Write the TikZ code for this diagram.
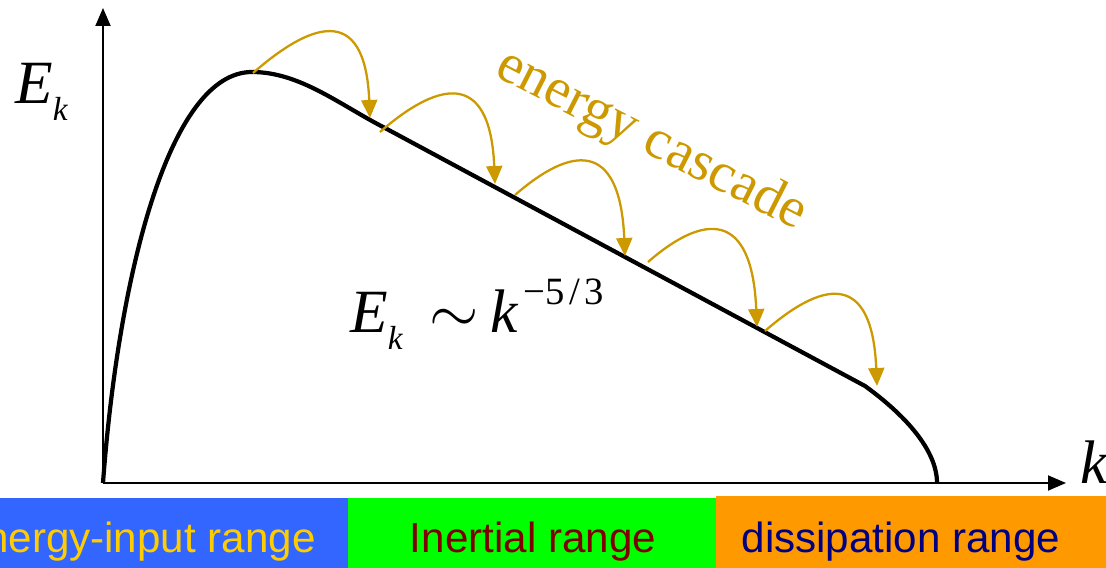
\documentclass[tikz,border=0pt]{standalone}
\usepackage{fontspec}
\setmainfont{Liberation Serif}
\newfontfamily\barfont{Liberation Sans}
\usepackage{graphicx}
\usetikzlibrary{arrows.meta}
\usepackage{xcolor}
\definecolor{gold}{HTML}{CC9900}
\definecolor{inputblue}{HTML}{3366FF}
\definecolor{inertgreen}{HTML}{00FF00}
\definecolor{dissorange}{HTML}{FF9900}
\definecolor{inputyellow}{HTML}{FFCC00}
\definecolor{inertred}{HTML}{800000}
\definecolor{dissnavy}{HTML}{000080}
\newcommand{\bigmath}{\fontsize{35}{40}\selectfont}
\newcommand{\Ek}{\textit{E}\raisebox{-0.28em}{\fontsize{19}{20}\selectfont\textit{k}}}
\tikzset{
  axis/.style={line width=1.1pt, -{Triangle[length=0.36cm,width=0.3cm]}},
  spectrum/.style={line width=2.4pt, line join=round},
  cascade/.style={draw=gold, line width=1.3pt, -{Triangle[length=0.36cm,width=0.32cm]}},
  rangelabel/.style={font=\barfont\fontsize{24}{26}\selectfont, anchor=base, inner sep=0pt},
  mathlabel/.style={font=\bigmath, inner sep=0pt, anchor=base west}
}

\begin{document}
\begin{tikzpicture}[x=0.02cm, y=-0.02cm]
  \useasboundingbox (0,0) rectangle (1106,568);
  % ranges
  \fill[inputblue] (0,498) rectangle (348,568);
  \fill[inertgreen] (348,498) rectangle (716,568);
  \fill[dissorange] (716,496) rectangle (1106,568);
  \node[rangelabel, text=inputyellow, anchor=base east] (inputlbl) at (316,552) {energy-input range};
  \node[rangelabel, text=inertred] (inertlbl) at (533,552) {Inertial range};
  \node[rangelabel, text=dissnavy] (disslbl) at (901,552) {dissipation range};
  % axes
  \coordinate (O) at (103,483);
  \coordinate (ytip) at (103,8);
  \coordinate (xtip) at (1066,483);
  \draw[axis] (O) -- (ytip);
  \draw[axis] (O) -- (xtip);
  \node[mathlabel] (ylbl) at (15,103) {\Ek};
  \node[mathlabel] (xlbl) at (1080,483) {\textit{k}};
  % spectrum
  \draw[spectrum] (O) .. controls (118,280) and (168,72) .. (252,72)
    .. controls (300,72) and (340,105) .. (385,128) -- (865,386)
    .. controls (905,415) and (937,450) .. (937,483);
  % cascade arrows
  \coordinate (c1) at (253,73);  \coordinate (t1) at (370,118);
  \coordinate (c2) at (380,132); \coordinate (t2) at (495,184);
  \coordinate (c3) at (515,195); \coordinate (t3) at (625,256);
  \coordinate (c4) at (648,262); \coordinate (t4) at (757,327);
  \coordinate (c5) at (765,331); \coordinate (t5) at (877,386);
  \foreach \i in {1,...,5}
    \draw[cascade] (c\i) .. controls +(55,-48) and +(-5,-118) .. (t\i);
  \node[text=gold, font=\fontsize{32}{36}\selectfont, rotate=-27] (cascadelbl) at (651,141) {energy cascade};
  \node[mathlabel] (law) at (350,332) {\Ek\hspace{0.42em}\scalebox{1.45}{$\sim$}\hspace{0.2em}\textit{k}\raisebox{0.45em}{\fontsize{22}{24}\selectfont\hspace{0.12em}−5\hspace{0.12em}/\hspace{0.12em}3}};
\end{tikzpicture}
\end{document}
